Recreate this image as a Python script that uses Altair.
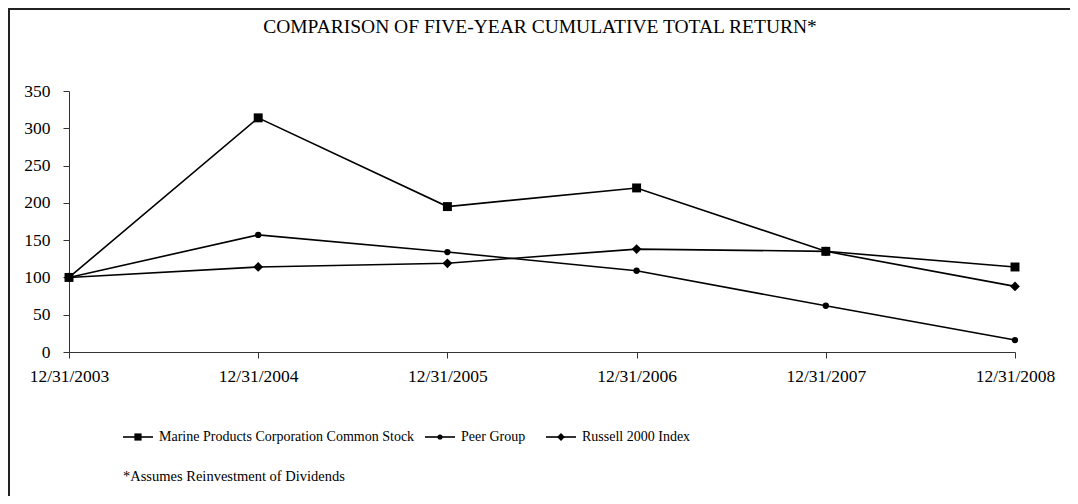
import altair as alt
import pandas as pd

dates = ["12/31/2003", "12/31/2004", "12/31/2005", "12/31/2006", "12/31/2007", "12/31/2008"]
marine = [100, 314, 195, 220, 135, 114]
peer = [100, 157, 134, 109, 62, 16]
russell = [100, 114, 119, 138, 135, 88]
series = ["Marine Products Corporation Common Stock", "Peer Group", "Russell 2000 Index"]
y_ticks = [0, 50, 100, 150, 200, 250, 300, 350]
title_text = "COMPARISON OF FIVE-YEAR CUMULATIVE TOTAL RETURN*"
footnote = "*Assumes Reinvestment of Dividends"

rows = []
for name, vals in zip(series, [marine, peer, russell]):
    for d, v in zip(dates, vals):
        rows.append({"date": d, "value": v, "series": name})
df = pd.DataFrame(rows)

FONT = "'Times New Roman', Times, 'Liberation Serif', 'DejaVu Serif', serif"
AXFS = 17.5
LEGFS = 14
FOOTFS = 14.5
TFS = 19.5
W, H = 946, 261

x = alt.X("date:O", sort=dates, title=None,
          scale=alt.Scale(type="point", padding=0),
          axis=alt.Axis(labelAngle=0, labelFontSize=AXFS, labelFont=FONT, labelColor="black",
                        domainColor="#333", tickColor="#333", tickSize=6, labelPadding=9,
                        grid=False))
y = alt.Y("value:Q", title=None,
          scale=alt.Scale(domain=[0, 350], nice=False, zero=True),
          axis=alt.Axis(values=y_ticks, labelFontSize=AXFS, labelFont=FONT, labelColor="black",
                        domainColor="#333", tickColor="#333", tickSize=6, labelPadding=13,
                        grid=False))

base = alt.Chart(df)
lines = base.mark_line(color="black", strokeWidth=1.6).encode(x=x, y=y, detail="series:N")

shape_map = {series[0]: ("square", 80), series[1]: ("circle", 40), series[2]: ("diamond", 95)}
pts = []
for s in series:
    shp, sz = shape_map[s]
    pts.append(
        alt.Chart(df[df["series"] == s]).mark_point(shape=shp, size=sz, filled=True, color="black", opacity=1)
        .encode(x=x, y=y)
    )

# legend (drawn manually, Excel style)
leg_y = 437 - 91
leg_items = [(123 - 69, series[0]), (425 - 69, series[1]), (546 - 69, series[2])]
legend_layers = []
for (lx, name) in leg_items:
    shp, sz = shape_map[name]
    legend_layers.append(
        alt.Chart(pd.DataFrame({"k": [0]})).mark_rule(color="black", strokeWidth=1.6)
        .encode(x=alt.value(lx), x2=alt.value(lx + 30), y=alt.value(leg_y))
    )
    legend_layers.append(
        alt.Chart(pd.DataFrame({"k": [0]})).mark_point(shape=shp, size=sz * 0.65, filled=True, color="black", opacity=1)
        .encode(x=alt.value(lx + 15), y=alt.value(leg_y))
    )
    legend_layers.append(
        alt.Chart(pd.DataFrame({"t": [name]})).mark_text(align="left", baseline="middle", font=FONT,
                                                          fontSize=LEGFS, color="black")
        .encode(x=alt.value(lx + 36), y=alt.value(leg_y), text="t:N")
    )

title = alt.Chart(pd.DataFrame({"t": [title_text]})).mark_text(
    align="center", baseline="middle", font=FONT, fontSize=TFS, color="black"
).encode(x=alt.value(540 - 69), y=alt.value(27 - 91), text="t:N")

foot = alt.Chart(pd.DataFrame({"t": [footnote]})).mark_text(
    align="left", baseline="middle", font=FONT, fontSize=FOOTFS, color="black"
).encode(x=alt.value(123 - 69), y=alt.value(477 - 91), text="t:N")

frame_top = alt.Chart(pd.DataFrame({"k": [0]})).mark_rule(color="#222", strokeWidth=2).encode(
    x=alt.value(-61), x2=alt.value(1010), y=alt.value(-82))
frame_left = alt.Chart(pd.DataFrame({"k": [0]})).mark_rule(color="#222", strokeWidth=2).encode(
    x=alt.value(-60), y=alt.value(-83), y2=alt.value(420))

chart = alt.layer(frame_top, frame_left, title, lines, *pts, *legend_layers, foot).properties(
    width=W, height=H,
    autosize=alt.AutoSizeParams(type="none"),
    padding={"left": 61, "top": 83, "right": 55, "bottom": 144},
).configure(background="white", font=FONT).configure_view(strokeWidth=0, stroke="transparent")

chart.save("out.html", embed_options={"renderer": "svg", "actions": False})
